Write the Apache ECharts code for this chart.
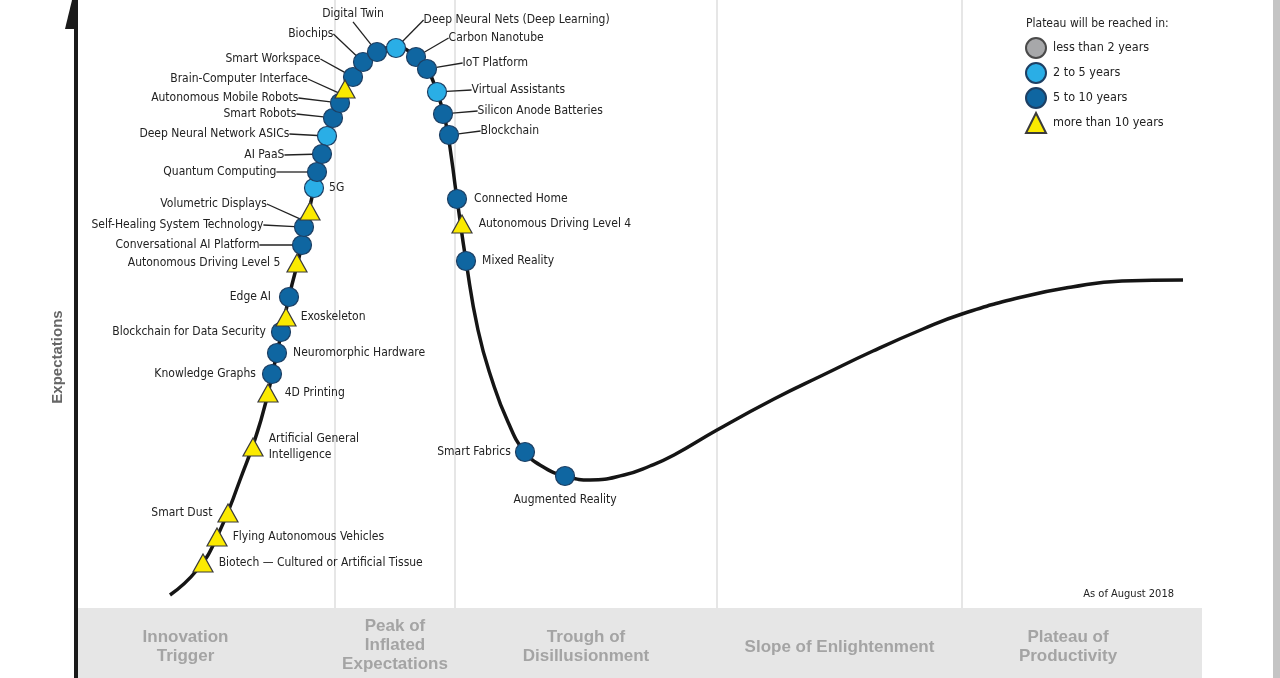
<!DOCTYPE html>
<html><head><meta charset="utf-8">
<script src="https://cdn.jsdelivr.net/npm/echarts@6/dist/echarts.min.js"></script>
<style>html,body{margin:0;padding:0;background:#fff}#c{width:1280px;height:678px}</style>
</head><body><div id="c"></div>
<script>
// ---- data (units: x = time along the cycle, y = expectations) ----
const curveX = [94,121,141,164,185,201,213,226,238,251,269,287,301,319,338,351,361,370,381,390,402,416,432,449,469,489,514,548,574,598,641,698,747,797,847,886,946,996,1046,1107];
const curveY = [13,38,71,128,188,255,311,363,420,472,519,546,556,561,553,539,516,484,409,347,278,228,186,156,140,132,128,133,142,153,178,209,233,257,279,294,311,321,327,328];

const techNames = [
 'Biotech — Cultured or Artificial Tissue','Flying Autonomous Vehicles','Smart Dust','Artificial General Intelligence',
 '4D Printing','Knowledge Graphs','Neuromorphic Hardware','Blockchain for Data Security','Exoskeleton','Edge AI',
 'Autonomous Driving Level 5','Conversational AI Platform','Self-Healing System Technology','Volumetric Displays','5G',
 'Quantum Computing','AI PaaS','Deep Neural Network ASICs','Smart Robots','Autonomous Mobile Robots',
 'Brain-Computer Interface','Smart Workspace','Biochips','Digital Twin','Deep Neural Nets (Deep Learning)',
 'Carbon Nanotube','IoT Platform','Virtual Assistants','Silicon Anode Batteries','Blockchain',
 'Connected Home','Autonomous Driving Level 4','Mixed Reality','Smart Fabrics','Augmented Reality'];
const techX = [127,141,152,177,192,196,201,205,210,213,221,226,228,234,238,241,246,251,257,264,269,277,287,301,320,340,351,361,367,373,381,386,390,449,489];
const techY = [45,71,95,161,215,234,255,276,291,311,345,363,381,397,420,436,454,472,490,505,519,531,546,556,560,551,539,516,494,473,409,384,347,156,132];
const techPlateau = [3,3,3,3,3,2,2,2,3,2,3,2,2,3,1,2,2,1,2,2,3,2,2,2,1,2,2,1,2,2,2,3,2,2,2];
const plateauGroups = ['less than 2 years','2 to 5 years','5 to 10 years','more than 10 years'];

const phaseNames = ['Innovation\nTrigger','Peak of\nInflated\nExpectations','Trough of\nDisillusionment','Slope of Enlightenment','Plateau of\nProductivity'];
const phaseBounds = [2,259,379,641,886,1126];

// ---- styles ----
const FONT = "'Liberation Sans Narrow','DejaVu Sans Condensed','Arial Narrow',sans-serif";
const groupStyle = [
 {symbol:'circle', size:19, color:'#a7a8aa', border:'#4a4a4a'},
 {symbol:'circle', size:19, color:'#2aaee6', border:'#1d3f63'},
 {symbol:'circle', size:19, color:'#0f66a1', border:'#1d3f63'},
 {symbol:'triangle', size:[20,18], color:'#fbea00', border:'#3b3b3b'}
];
const labelPlace = {
 'Biotech — Cultured or Artificial Tissue':{pos:'right'},
 'Flying Autonomous Vehicles':{pos:'right'},
 'Smart Dust':{pos:'left'},
 'Artificial General Intelligence':{pos:'right', text:'Artificial General\nIntelligence', off:[0,8]},
 '4D Printing':{pos:'right', dist:6},
 'Knowledge Graphs':{pos:'left', dist:6},
 'Neuromorphic Hardware':{pos:'right', dist:6},
 'Blockchain for Data Security':{pos:'left', dist:5},
 'Exoskeleton':{pos:'right', dist:4},
 'Edge AI':{pos:'left', dist:8},
 'Autonomous Driving Level 5':{pos:'left', dist:6},
 'Conversational AI Platform':{pos:'left', lead:[-27.5,0]},
 'Self-Healing System Technology':{pos:'left', lead:[-25.5,-2]},
 'Volumetric Displays':{pos:'left', lead:[-27.5,-7]},
 '5G':{pos:'right'},
 'Quantum Computing':{pos:'left', lead:[-25.5,0]},
 'AI PaaS':{pos:'left', lead:[-22.5,1]},
 'Deep Neural Network ASICs':{pos:'left', lead:[-22.5,-2]},
 'Smart Robots':{pos:'left', lead:[-21.5,-4]},
 'Autonomous Mobile Robots':{pos:'left', lead:[-26.5,-5]},
 'Brain-Computer Interface':{pos:'left', lead:[-21.5,-10]},
 'Smart Workspace':{pos:'left', lead:[-17.5,-18]},
 'Biochips':{pos:'left', lead:[-14.5,-28]},
 'Digital Twin':{pos:'top', lead:[-24,-15]},
 'Deep Neural Nets (Deep Learning)':{pos:'right', lead:[12.5,-28]},
 'Carbon Nanotube':{pos:'right', lead:[17.5,-19]},
 'IoT Platform':{pos:'right', lead:[20.5,-6]},
 'Virtual Assistants':{pos:'right', lead:[19.5,-2]},
 'Silicon Anode Batteries':{pos:'right', lead:[19.5,-3]},
 'Blockchain':{pos:'right', lead:[16.5,-4]},
 'Connected Home':{pos:'right', dist:7},
 'Autonomous Driving Level 4':{pos:'right', dist:6},
 'Mixed Reality':{pos:'right', dist:6},
 'Smart Fabrics':{pos:'left', dist:4},
 'Augmented Reality':{pos:'bottom', dist:6}
};

const chart = echarts.init(document.getElementById('c'), null, {renderer:'canvas'});

const scatterSeries = plateauGroups.map((g, gi) => {
  const st = groupStyle[gi];
  const data = [];
  techNames.forEach((n, i) => {
    if (techPlateau[i] !== gi) return;
    const p = labelPlace[n] || {pos:'right'};
    data.push({
      name: n,
      value: [techX[i], techY[i]],
      label: {position: p.pos, distance: p.dist != null ? p.dist : 5, offset: p.off || [0,0],
              formatter: () => p.text || n},
      labelLine: {show: !!p.lead}
    });
  });
  return {
    type:'scatter', name:g, z:5, data,
    symbol: st.symbol, symbolSize: st.size,
    itemStyle:{color:st.color, borderColor:st.border, borderWidth:1.2, opacity:1},
    label:{show:true, color:'#222', fontFamily:FONT, fontSize:12, lineHeight:16},
    labelLine:{show:false, lineStyle:{color:'#222', width:1.3}},
    labelLayout: (params) => {
      const d = data[params.dataIndex];
      const p = d ? labelPlace[d.name] : null;
      if (p && p.lead) return {dx:p.lead[0], dy:p.lead[1]};
      return {};
    },
    emphasis:{disabled:true}
  };
});

const phaseAreas = phaseNames.map((nm, i) => {
  const off = i === 0 ? [-21,4] : (i === 4 ? [-14,4] : (i === 1 ? [0,2] : [0,4]));
  return [{name:nm, xAxis:phaseBounds[i], yAxis:-70, label:{offset:off}}, {xAxis:phaseBounds[i+1], yAxis:0}];
});
phaseAreas.push([{name:'', xAxis:1197, yAxis:-70, itemStyle:{color:'#c4c4c4'}}, {xAxis:1204, yAxis:608}]);

const dividers = phaseBounds.slice(1,5).map(b => [{coord:[b,0]},{coord:[b,608]}]);

chart.setOption({
  animation:false,
  backgroundColor:'#fff',
  grid:{left:76, right:0, top:0, bottom:0},
  xAxis:{type:'value', min:0, max:1204, show:false},
  yAxis:{type:'value', min:-70, max:608, axisLine:{show:true, onZero:false, lineStyle:{color:'#1a1a1a', width:4}},
         axisTick:{show:false}, axisLabel:{show:false}, splitLine:{show:false}},
  title:[
    {text:'Plateau will be reached in:', left:1021, top:13, textStyle:{fontFamily:FONT, fontSize:12, fontWeight:'normal', color:'#222'}},
    {text:'As of August 2018', right:101, top:584, textStyle:{fontFamily:FONT, fontSize:11, fontWeight:'normal', color:'#222'}}
  ],
  legend:{orient:'vertical', left:1025, top:37, padding:0, itemWidth:20, itemHeight:20, itemGap:3,
          data:plateauGroups, selectedMode:false,
          textStyle:{fontFamily:FONT, fontSize:12.5, lineHeight:20, color:'#222', padding:[0,0,0,2]}},
  graphic:[
    {type:'polygon', shape:{points:[[65,29],[73,-4],[77,-4],[77,29]]}, style:{fill:'#1a1a1a'}, z:10},
    {type:'text', x:58, y:357, rotation:Math.PI/2,
     style:{text:'Expectations', fill:'#666', font:"bold 15px 'Liberation Sans', Arial, sans-serif", textAlign:'center', textVerticalAlign:'middle'}}
  ],
  series:[
    {type:'line', name:'curve', z:2, data:curveX.map((x,i)=>[x,curveY[i]]), showSymbol:false, symbol:'none',
     smooth:0.5, lineStyle:{color:'#151515', width:3.5}, silent:true,
     markArea:{silent:true, z:0, itemStyle:{color:'#e6e6e6'},
       label:{show:true, position:'inside', color:'#a4a4a4', fontWeight:'bold', fontSize:17, lineHeight:19,
              fontFamily:"'Liberation Sans', Arial, sans-serif"},
       data:phaseAreas},
     markLine:{silent:true, z:0, symbol:['none','none'], label:{show:false}, lineStyle:{color:'#dedede', width:1.5, type:'solid'},
       data:dividers}
    },
    ...scatterSeries
  ]
});
</script></body></html>
